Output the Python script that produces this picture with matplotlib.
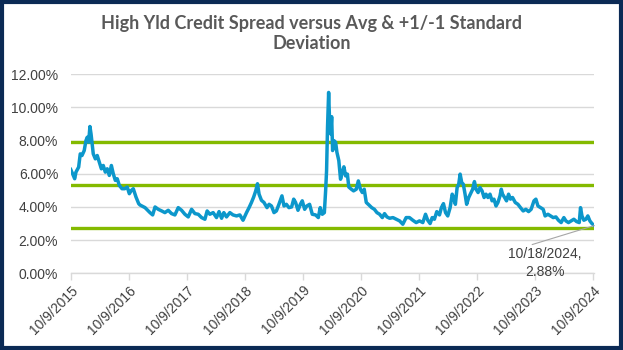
import matplotlib
matplotlib.use("Agg")
import matplotlib.pyplot as plt
import pandas as pd
from matplotlib.patches import Rectangle

# ---- data (decimal year, spread in %) ----
years = [
    2015.770, 2015.804, 2015.839, 2015.861, 2015.908, 2015.935, 2015.964, 2016.004,
    2016.033, 2016.056, 2016.080, 2016.102, 2016.119, 2016.137, 2016.159, 2016.193,
    2016.228, 2016.262, 2016.297, 2016.331, 2016.365, 2016.400, 2016.434, 2016.469,
    2016.503, 2016.537, 2016.572, 2016.606, 2016.653, 2016.699, 2016.744, 2016.778,
    2016.813, 2016.847, 2016.894, 2016.940,
    2016.963, 2017.049, 2017.135, 2017.181, 2017.221, 2017.278, 2017.336, 2017.393,
    2017.450, 2017.508, 2017.565, 2017.622, 2017.680, 2017.737, 2017.794, 2017.852,
    2017.909, 2017.966, 2018.024, 2018.081, 2018.121, 2018.167, 2018.224, 2018.283,
    2018.327, 2018.369, 2018.408, 2018.455,
    2018.511, 2018.568, 2018.627, 2018.684, 2018.740, 2018.799, 2018.844, 2018.885,
    2018.924, 2018.959, 2018.988, 2019.016, 2019.057, 2019.102, 2019.153, 2019.188,
    2019.229, 2019.274, 2019.315, 2019.360, 2019.411, 2019.446, 2019.487, 2019.532,
    2019.578, 2019.613, 2019.647, 2019.687, 2019.728, 2019.763, 2019.802, 2019.842,
    2019.888, 2019.935, 2019.991, 2020.038, 2020.072, 2020.107, 2020.141, 2020.163,
    2020.181, 2020.198, 2020.215, 2020.232, 2020.250, 2020.267, 2020.284, 2020.306,
    2020.336, 2020.358, 2020.392, 2020.422, 2020.451, 2020.478, 2020.508, 2020.537,
    2020.564, 2020.606, 2020.645, 2020.692, 2020.726, 2020.761, 2020.795, 2020.829,
    2020.864, 2020.909, 2020.955, 2021.002, 2021.046, 2021.093, 2021.139, 2021.179,
    2021.218, 2021.265, 2021.322, 2021.380, 2021.437, 2021.494, 2021.552,
    2021.609, 2021.666, 2021.724, 2021.781, 2021.838, 2021.884, 2021.924, 2021.965,
    2022.000, 2022.039, 2022.079, 2022.125, 2022.160, 2022.194, 2022.229, 2022.268,
    2022.309, 2022.344, 2022.371, 2022.401, 2022.430, 2022.457, 2022.481, 2022.509,
    2022.538, 2022.568, 2022.595, 2022.630, 2022.671, 2022.698, 2022.728, 2022.757,
    2022.791, 2022.826, 2022.860, 2022.895, 2022.929, 2022.963, 2022.998, 2023.032,
    2023.067, 2023.101, 2023.135, 2023.170, 2023.192, 2023.215, 2023.249, 2023.283,
    2023.318, 2023.352, 2023.387, 2023.433, 2023.480, 2023.524, 2023.571, 2023.617,
    2023.662, 2023.708, 2023.755, 2023.789, 2023.824, 2023.868, 2023.915, 2023.949,
    2023.996, 2024.041, 2024.087, 2024.133, 2024.178, 2024.225, 2024.271, 2024.306,
    2024.350, 2024.397, 2024.443, 2024.488, 2024.535, 2024.557, 2024.581, 2024.615,
    2024.650, 2024.684, 2024.719, 2024.753, 2024.797,
]
spread = [
    6.26, 6.00, 5.70, 6.10, 6.40, 7.20, 7.10, 7.40,
    8.00, 8.20, 7.90, 8.85, 8.40, 7.90, 7.20, 6.90,
    7.10, 6.70, 6.30, 6.50, 6.10, 6.30, 5.90, 6.50,
    6.00, 5.60, 5.70, 5.30, 5.10, 5.10, 5.20, 4.80,
    5.00, 5.10, 4.60, 4.20,
    4.12, 3.96, 3.66, 3.52, 4.00, 3.86, 3.76, 3.66,
    3.80, 3.60, 3.52, 3.96, 3.80, 3.56, 3.40, 3.86,
    3.60, 3.56, 3.36, 3.26, 3.76, 3.56, 3.66, 3.36,
    3.72, 3.32, 3.66, 3.40,
    3.66, 3.52, 3.46, 3.52, 3.20, 3.66, 3.96, 4.27,
    4.60, 4.97, 5.40, 4.77, 4.40, 4.27, 3.96, 4.16,
    4.06, 3.66, 3.76, 4.16, 4.67, 4.06, 4.16, 3.96,
    4.00, 4.47, 4.27, 3.80, 4.16, 4.37, 3.86, 4.06,
    4.16, 3.56, 3.52, 3.36, 3.96, 3.56, 3.66, 4.97,
    6.18, 8.80, 10.90, 9.20, 8.40, 9.44, 7.40, 8.00,
    7.90, 7.30, 6.80, 5.67, 6.08, 6.42, 5.87, 5.98,
    5.20, 5.07, 4.97, 5.07, 5.57, 5.07, 4.87, 5.07,
    4.27, 4.12, 3.96, 3.86, 3.66, 3.56, 3.36, 3.60,
    3.40, 3.32, 3.36, 3.26, 3.16, 2.96, 3.36,
    3.36, 3.20, 3.06, 3.16, 3.06, 3.56, 3.20, 3.00,
    3.36, 3.26, 3.72, 3.52, 3.96, 4.20, 3.66, 3.46,
    3.96, 4.77, 4.57, 4.16, 5.17, 5.37, 5.98, 5.47,
    5.37, 4.77, 4.16, 4.57, 4.87, 5.07, 5.53, 5.07,
    4.87, 5.17, 4.97, 4.57, 4.77, 4.57, 4.77, 4.37,
    4.47, 4.06, 4.27, 4.67, 5.07, 4.77, 4.57, 4.37,
    4.77, 4.47, 4.57, 4.27, 4.16, 3.96, 3.76, 3.86,
    3.72, 3.86, 4.37, 4.47, 4.06, 3.96, 3.86, 3.46,
    3.56, 3.46, 3.36, 3.40, 3.20, 3.06, 3.36, 3.16,
    3.06, 3.16, 3.26, 3.12, 3.06, 3.96, 3.46, 3.20,
    3.26, 3.46, 3.16, 3.00, 2.88,
]
plus_1sd = 7.90
average = 5.33
minus_1sd = 2.76

tick_years = list(range(2015, 2025))
tick_labels = [f"10/9/{y}" for y in tick_years]
title = "High Yld Credit Spread versus Avg & +1/-1 Standard\nDeviation"
last_label = "10/18/2024,\n2.88%"
y_ticks = [0, 2, 4, 6, 8, 10, 12]


def dec_to_date(y):
    yr = int(y)
    start = pd.Timestamp(yr, 1, 1)
    ndays = (pd.Timestamp(yr + 1, 1, 1) - start).days
    return start + pd.Timedelta(days=round((y - yr) * ndays))


dates = [dec_to_date(y) for y in years]
dates[-1] = pd.Timestamp("2024-10-18")
tick_pos = [pd.Timestamp(f"{y}-10-09") for y in tick_years]

fig = plt.figure(figsize=(6.23, 3.5), dpi=100)
ax = fig.add_axes([0.1135, 0.219, 0.8405, 0.569])

for lvl in (plus_1sd, average, minus_1sd):
    ax.axhline(lvl, color="#84BA00", lw=2.4, zorder=2)

ax.plot(dates, spread, color="#0C97CB", lw=2.5, zorder=3, solid_joinstyle="round")

ax.set_ylim(0, 12)
ax.set_xlim(tick_pos[0], dates[-1])
ax.set_yticks(y_ticks)
ax.set_yticklabels([f"{v:.2f}%" for v in y_ticks], fontsize=10, color="#404040",
                   family="Liberation Sans")
ax.yaxis.grid(True, color="#D9D9D9", lw=1.0, zorder=0)
ax.set_axisbelow(True)
ax.tick_params(axis="y", length=0, pad=9)

ax.set_xticks(tick_pos)
ax.set_xticklabels(tick_labels, rotation=45, ha="right", rotation_mode="anchor",
                   fontsize=10, color="#404040", family="Liberation Sans")
ax.tick_params(axis="x", length=5, color="#D9D9D9", width=1.0, pad=2)

for s in ("top", "right", "left"):
    ax.spines[s].set_visible(False)
ax.spines["bottom"].set_color("#D9D9D9")
ax.spines["bottom"].set_linewidth(1.0)

ax.annotate(last_label, xy=(dates[-1], spread[-1]), xycoords="data",
            xytext=(0.906, 0.052), textcoords="axes fraction",
            ha="center", va="center", fontsize=10, color="#404040",
            family="Liberation Sans", linespacing=1.3,
            arrowprops=dict(arrowstyle="-", color="#A6A6A6", lw=0.8,
                            relpos=(0.2, 1.0), shrinkA=0, shrinkB=0),
            zorder=5)

fig.text(0.5, 0.905, title, ha="center", va="center", fontsize=13,
         fontweight="bold", color="#595959", family="Lato", linespacing=1.2)

fig.patches.append(Rectangle((0.003, 0.005), 0.994, 0.99, transform=fig.transFigure,
                             fill=False, edgecolor="#0B2A55", lw=3.0, zorder=10))

fig.savefig("out.png", dpi=100)
